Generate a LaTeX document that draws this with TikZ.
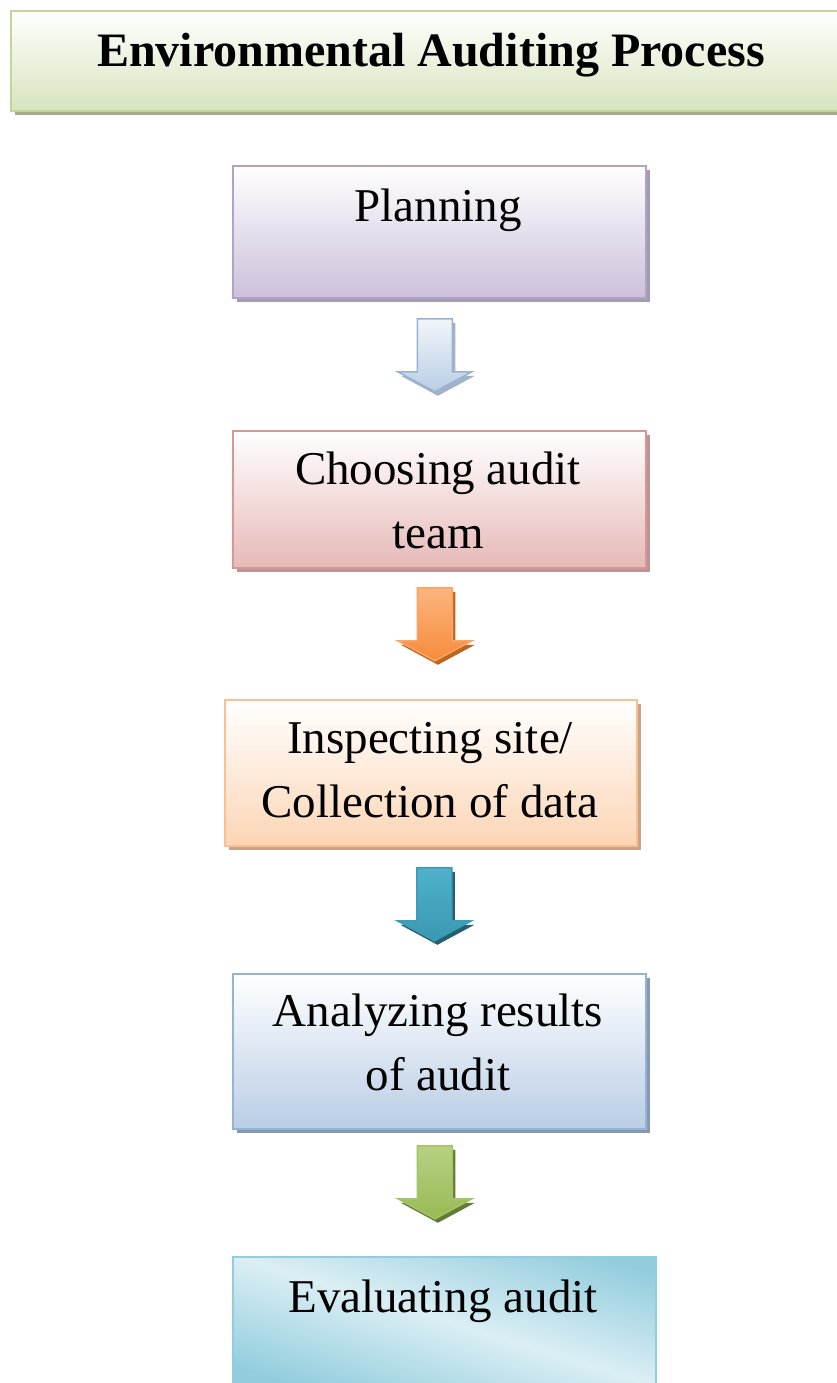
\documentclass[tikz,border=0pt]{standalone}
\usepackage{fontspec}
\setmainfont{Liberation Serif}
\usetikzlibrary{shadows,calc}

% box colours: border, bottom of fill, shadow
\definecolor{titleB}{HTML}{C3D69B}
\definecolor{titleF}{HTML}{D7E4BD}
\definecolor{titleS}{HTML}{A3AD8C}
\definecolor{planB}{HTML}{B3A2C7}
\definecolor{planF}{HTML}{CCC0DA}
\definecolor{planS}{HTML}{A39CB0}
\definecolor{teamB}{HTML}{D99694}
\definecolor{teamF}{HTML}{E6B9B8}
\definecolor{teamS}{HTML}{B89596}
\definecolor{siteB}{HTML}{FAC090}
\definecolor{siteF}{HTML}{FCD5B5}
\definecolor{siteS}{HTML}{C9A385}
\definecolor{anaB}{HTML}{95B3D7}
\definecolor{anaF}{HTML}{B9CDE5}
\definecolor{anaS}{HTML}{8899AD}
\definecolor{evalB}{HTML}{93CDDD}
\definecolor{evalL}{HTML}{DBEEF4}
% arrow colours
\definecolor{arBlueT}{HTML}{F2F5FA}
\definecolor{arBlueB}{HTML}{B9CDE5}
\definecolor{arBlueE}{HTML}{95B3D7}
\definecolor{arBlueS}{HTML}{A4B2C5}
\definecolor{arOrT}{HTML}{FBB57F}
\definecolor{arOrB}{HTML}{F68B3A}
\definecolor{arOrE}{HTML}{F9A566}
\definecolor{arOrS}{HTML}{BD6520}
\definecolor{arTeT}{HTML}{4FB1CB}
\definecolor{arTeB}{HTML}{3A98B2}
\definecolor{arTeE}{HTML}{3C9BB5}
\definecolor{arTeS}{HTML}{24606F}
\definecolor{arGrT}{HTML}{B7D184}
\definecolor{arGrB}{HTML}{98B955}
\definecolor{arGrE}{HTML}{A5C468}
\definecolor{arGrS}{HTML}{627A34}

\tikzset{
  stagebox/.style n args={3}{rectangle, anchor=north west, inner sep=0pt,
    draw=#1, line width=1.8pt, top color=white, bottom color=#2,
    drop shadow={shadow xshift=4pt, shadow yshift=-4pt, fill=#3, opacity=1}},
  % anchor=base sits on the baseline of the last line
  stagetext/.style={anchor=base, align=center, inner sep=0pt,
    font=\fontsize{47}{64}\selectfont},
  pics/flowarrow/.style n args={3}{code={
    \fill[#3, shift={(3,4)}] (-17.5,0) -- (17.5,0) -- (17.5,53) -- (37,53)
      -- (0,73) -- (-37,53) -- (-17.5,53) -- cycle;
    \path[line width=1.5pt, line join=miter, #2, #1] (-17.5,0) -- (17.5,0)
      -- (17.5,53) -- (37,53) -- (0,73) -- (-37,53) -- (-17.5,53) -- cycle;
  }},
}

\begin{document}
\begin{tikzpicture}[x=1pt, y=-1pt]
\useasboundingbox (0,0) rectangle (837,1383);
\clip (0,0) rectangle (837,1383);

% heading
\node[stagebox={titleB}{titleF}{titleS}, minimum width=835, minimum height=100]
  (title) at (10,10) {};
\node[anchor=base, inner sep=0pt, font=\fontsize{48}{58}\selectfont\bfseries]
  (titleT) at (431,67) {Environmental Auditing Process};

% process stages
\node[stagebox={planB}{planF}{planS}, minimum width=413, minimum height=132]
  (plan) at (232,165) {};
\node[stagetext] (planT) at (438,222) {Planning};

\node[stagebox={teamB}{teamF}{teamS}, minimum width=413, minimum height=137]
  (team) at (232,430) {};
\node[stagetext] (teamT) at (438,548) {Choosing audit\\team};

\node[stagebox={siteB}{siteF}{siteS}, minimum width=412, minimum height=146]
  (site) at (224,699) {};
\node[stagetext] (siteT) at (430,817) {Inspecting site/\\Collection of data};

\node[stagebox={anaB}{anaF}{anaS}, minimum width=413, minimum height=155]
  (ana) at (232,973) {};
\node[stagetext] (anaT) at (438,1090) {Analyzing results\\of audit};

% last stage: teal fill with a light diagonal band
\begin{scope}
  \clip (232,1256) rectangle (655,1395);
  \fill[evalB] (232,1256) rectangle (655,1395);
  \begin{scope}[transform canvas={rotate around={-17:(443,1320)}}]
    \shade[top color=evalB, bottom color=evalB, middle color=evalL]
      (93,1215) rectangle (793,1425);
  \end{scope}
\end{scope}
\node[rectangle, anchor=north west, inner sep=0pt, draw=evalB, line width=1.8pt,
  minimum width=423, minimum height=139] (eval) at (232,1256) {};
\node[stagetext] (evalT) at (443,1312) {Evaluating audit};

% block arrows between the stages
\coordinate (a1) at ($(plan.south)+(-4.5,20)$);
\coordinate (a2) at ($(team.south)+(-4.5,19)$);
\coordinate (a3) at ($(site.south)+(3.5,21)$);
\coordinate (a4) at ($(ana.south)+(-4.5,16)$);
\pic at (a1) {flowarrow={top color=arBlueT, bottom color=arBlueB}{draw=arBlueE}{arBlueS}};
\pic at (a2) {flowarrow={top color=arOrT, bottom color=arOrB}{draw=arOrE}{arOrS}};
\pic at (a3) {flowarrow={top color=arTeT, bottom color=arTeB}{draw=arTeE}{arTeS}};
\pic at (a4) {flowarrow={top color=arGrT, bottom color=arGrB}{draw=arGrE}{arGrS}};
\end{tikzpicture}
\end{document}
